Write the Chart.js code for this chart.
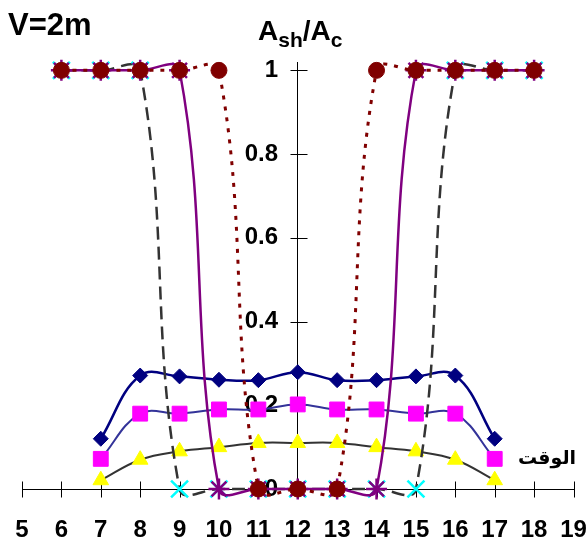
<!DOCTYPE html>
<html>
<head>
<meta charset="utf-8">
<script src="https://cdn.jsdelivr.net/npm/chart.js@4.4.0/dist/chart.umd.min.js"></script>
<style>
  html, body { margin: 0; padding: 0; background: #ffffff; }
  #wrap { width: 588px; height: 545px; }
</style>
</head>
<body>
<div id="wrap"><canvas id="chart" width="588" height="545"></canvas></div>
<script>
// Hour ticks along the time axis and ratio ticks on the vertical axis
const xTicks = [5, 6, 7, 8, 9, 10, 11, 12, 13, 14, 15, 16, 17, 18, 19];
const yTicks = [0, 0.2, 0.4, 0.6, 0.8, 1];

// Hours covered by the partial-shade curves
const hoursMid = [7, 8, 9, 10, 11, 12, 13, 14, 15, 16, 17];
const shadeDiamond  = [0.12, 0.271, 0.269, 0.261, 0.26, 0.279, 0.26, 0.26, 0.269, 0.271, 0.12];
const shadeSquare   = [0.072, 0.18, 0.18, 0.19, 0.19, 0.202, 0.19, 0.19, 0.18, 0.18, 0.072];
const shadeTriangle = [0.021, 0.07, 0.09, 0.10, 0.11, 0.11, 0.11, 0.10, 0.09, 0.07, 0.021];

// Hours covered by the full/zero shade curves
const hoursFull = [6, 7, 8, 9, 10, 11, 12, 13, 14, 15, 16, 17, 18];
const shadeCross  = [1, 1, 1, 0, 0, 0, 0, 0, 0, 0, 1, 1, 1];
const shadeStar   = [1, 1, 1, 1, 0, 0, 0, 0, 0, 1, 1, 1, 1];
const shadeCircle = [1, 1, 1, 1, 1, 0, 0, 0, 1, 1, 1, 1, 1];

// Captions
const chartTitle = 'V=2m';
const axisTitleMain1 = 'A';
const axisTitleSub1 = 'sh';
const axisTitleSlash = '/';
const axisTitleMain2 = 'A';
const axisTitleSub2 = 'c';
const timeLabel = 'الوقت';

const FONT = '"Liberation Sans", Arial, sans-serif';

// The vertical axis crosses the time axis at noon; its labels sit just left of it
const AXIS_HOUR = 12;
const AXIS_LABEL_HOUR = 11.5;

const toPoints = (xs, ys) => xs.map((x, i) => ({ x: x, y: ys[i] }));

// Tick marks that cross both axes
const crossTicks = {
  id: 'crossTicks',
  beforeDatasetsDraw(chart) {
    const { ctx, scales: { x, y } } = chart;
    const ax = Math.round(x.getPixelForValue(AXIS_HOUR)) + 0.5;
    const ay = Math.round(y.getPixelForValue(0)) + 0.5;
    ctx.save();
    ctx.strokeStyle = '#000000';
    ctx.lineWidth = 1;
    ctx.beginPath();
    xTicks.forEach(v => {
      const px = Math.round(x.getPixelForValue(v)) + 0.5;
      ctx.moveTo(px, ay - 8);
      ctx.lineTo(px, ay + 8);
    });
    yTicks.forEach(v => {
      const py = Math.round(y.getPixelForValue(v)) + 0.5;
      ctx.moveTo(ax - 8, py);
      ctx.lineTo(ax + 9, py);
    });
    ctx.stroke();
    ctx.restore();
  }
};

// Chart title, axis title with subscripts, and the time label
const captions = {
  id: 'captions',
  afterDraw(chart) {
    const ctx = chart.ctx;
    ctx.save();
    ctx.fillStyle = '#000000';
    ctx.textBaseline = 'alphabetic';
    ctx.textAlign = 'left';

    ctx.font = 'bold 31px ' + FONT;
    ctx.fillText(chartTitle, 8, 35);

    let cx = 258;
    const big = 'bold 28px ' + FONT;
    const small = 'bold 21px ' + FONT;
    ctx.font = big;   ctx.fillText(axisTitleMain1, cx, 40); cx += ctx.measureText(axisTitleMain1).width;
    ctx.font = small; ctx.fillText(axisTitleSub1, cx, 47);  cx += ctx.measureText(axisTitleSub1).width;
    ctx.font = big;   ctx.fillText(axisTitleSlash, cx, 40); cx += ctx.measureText(axisTitleSlash).width;
    ctx.fillText(axisTitleMain2, cx, 40); cx += ctx.measureText(axisTitleMain2).width;
    ctx.font = small; ctx.fillText(axisTitleSub2, cx, 47);

    ctx.font = 'bold 19px "DejaVu Sans", ' + FONT;
    ctx.textAlign = 'center';
    ctx.textBaseline = 'middle';
    ctx.fillText(timeLabel, 547, 459);
    ctx.restore();
  }
};

const fixedTicks = list => scale => { scale.ticks = list.map(v => ({ value: v })); };
const labelFont = { family: FONT, size: 24, weight: 'bold' };

// Keep the plot frame fixed: no extra room reserved for tick labels
const fitTime = s => { s.paddingLeft = 0; s.paddingRight = 0; s.height = 54; };
const fitRatio = s => { s.width = 0; s.paddingTop = 0; s.paddingBottom = 0; };

new Chart(document.getElementById('chart'), {
  type: 'line',
  data: {
    datasets: [
      {
        data: toPoints(hoursMid, shadeTriangle),
        order: 6,
        borderColor: '#333333', borderWidth: 2,
        pointStyle: 'triangle', pointRadius: 9,
        pointBackgroundColor: '#FFFF00', pointBorderColor: '#FFFF00', pointBorderWidth: 1
      },
      {
        data: toPoints(hoursMid, shadeSquare),
        order: 5,
        borderColor: '#333399', borderWidth: 2,
        pointStyle: 'rect', pointRadius: 10.5,
        pointBackgroundColor: '#FF00FF', pointBorderColor: '#FF00FF', pointBorderWidth: 1
      },
      {
        data: toPoints(hoursMid, shadeDiamond),
        order: 4,
        borderColor: '#000080', borderWidth: 2.5,
        pointStyle: 'rectRot', pointRadius: 7.5,
        pointBackgroundColor: '#000080', pointBorderColor: '#000080', pointBorderWidth: 1
      },
      {
        data: toPoints(hoursFull, shadeCross),
        order: 3,
        borderColor: '#333333', borderWidth: 2.5, borderDash: [13, 7],
        pointStyle: 'crossRot', pointRadius: 12,
        pointBorderColor: '#00FFFF', pointBackgroundColor: '#00FFFF', pointBorderWidth: 2.5
      },
      {
        data: toPoints(hoursFull, shadeStar),
        order: 2,
        borderColor: '#800080', borderWidth: 2.5,
        pointStyle: 'star', pointRadius: 10.5,
        pointBorderColor: '#800080', pointBackgroundColor: '#800080', pointBorderWidth: 2.5
      },
      {
        data: toPoints(hoursFull, shadeCircle),
        order: 1,
        borderColor: '#800000', borderWidth: 3, borderDash: [4, 7],
        pointStyle: 'circle', pointRadius: 8,
        pointBackgroundColor: '#800000', pointBorderColor: '#800000', pointBorderWidth: 1
      }
    ]
  },
  options: {
    responsive: false,
    animation: false,
    devicePixelRatio: 1,
    events: [],
    layout: { padding: { left: 22, right: 14, top: 62, bottom: 2 } },
    elements: {
      line: { tension: 0.4, capBezierPoints: false, fill: false }
    },
    datasets: { line: { clip: false } },
    plugins: {
      legend: { display: false },
      tooltip: { enabled: false },
      title: { display: false }
    },
    scales: {
      x: {
        type: 'linear', position: 'bottom', min: 5, max: 19,
        afterBuildTicks: fixedTicks(xTicks),
        afterFit: fitTime,
        grid: { display: false, drawTicks: false },
        border: { display: true, color: '#000000', width: 1 },
        ticks: {
          font: labelFont, color: '#000000', padding: 27,
          maxRotation: 0, autoSkip: false,
          callback: v => String(v)
        }
      },
      y: {
        type: 'linear', position: { x: AXIS_HOUR }, min: 0, max: 1.02,
        afterBuildTicks: fixedTicks(yTicks),
        afterFit: fitRatio,
        grid: { display: false, drawTicks: false },
        border: { display: true, color: '#000000', width: 1 },
        ticks: { display: false }
      },
      yLabels: {
        type: 'linear', position: { x: AXIS_LABEL_HOUR }, min: 0, max: 1.02, z: 1,
        afterBuildTicks: fixedTicks(yTicks),
        afterFit: fitRatio,
        grid: { display: false, drawTicks: false },
        border: { display: false },
        ticks: {
          font: labelFont, color: '#000000', padding: 0,
          callback: v => String(Math.round(v * 10) / 10)
        }
      }
    }
  },
  plugins: [crossTicks, captions]
});
</script>
</body>
</html>
